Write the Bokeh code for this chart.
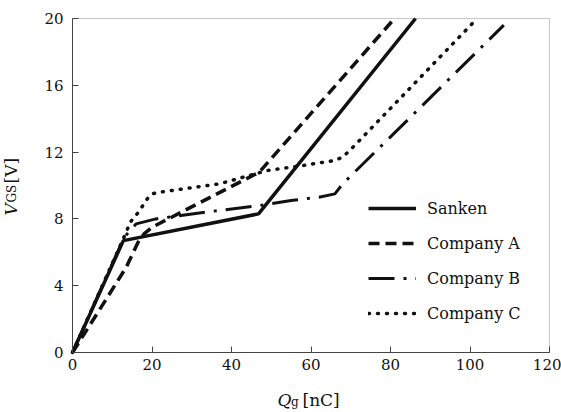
import math
from bokeh.plotting import figure
from bokeh.models import Range1d, FixedTicker, Legend, LegendItem, Label, BoxAnnotation
from bokeh.embed import file_html
from bokeh.resources import INLINE

# ---- data ----
sanken_q = [0, 12.8, 46.8, 86.3]
sanken_v = [0, 6.7, 8.3, 20.0]

a_q = [0, 8.5, 13.5, 16.5, 18, 20, 47, 81]
a_v = [0, 3.2, 5.1, 6.6, 7.1, 7.5, 10.8, 20.0]

b_q = [0, 13, 16, 21, 35, 47, 55, 62, 66, 68, 108.5]
b_v = [0, 6.9, 7.7, 8.0, 8.45, 8.8, 9.1, 9.3, 9.5, 10.1, 19.6]

c_q = [0, 13.5, 14.5, 16.6, 18.8, 20, 22, 37, 49, 58, 66, 68, 71, 101]
c_v = [0, 7.2, 7.8, 8.4, 9.2, 9.5, 9.6, 10.1, 10.9, 11.2, 11.5, 11.7, 12.4, 19.8]

series_names = ["Sanken", "Company A", "Company B", "Company C"]
x_ticks = [0, 20, 40, 60, 80, 100, 120]
y_ticks = [0, 4, 8, 12, 16, 20]
X_MIN, X_MAX = 0, 120
Y_MIN, Y_MAX = 0, 20

# ---- layout (pixels) ----
W, H = 561, 412
PL, PR, PT, PB = 72, 549, 18, 352          # data box edges on the canvas
XPP = (X_MAX - X_MIN) / (PR - PL)
YPP = (Y_MAX - Y_MIN) / (PB - PT)
FONT = "DejaVu Serif"
INK = "#111111"
AXC = "#444444"

p = figure(width=W, height=H,
           x_range=Range1d(X_MIN - PL * XPP, X_MAX + (W - PR) * XPP),
           y_range=Range1d(Y_MIN - (H - PB) * YPP, Y_MAX + PT * YPP),
           output_backend="svg", toolbar_location=None, title=None,
           min_border=0)
p.background_fill_color = "white"
p.border_fill_color = "white"
p.outline_line_color = None
p.xgrid.visible = False
p.ygrid.visible = False

p.xaxis.fixed_location = Y_MIN
p.yaxis.fixed_location = X_MIN
p.xaxis.bounds = (X_MIN, X_MAX)
p.yaxis.bounds = (Y_MIN, Y_MAX)
for ax, ticks, standoff in ((p.xaxis, x_ticks, 6), (p.yaxis, y_ticks, 9)):
    ax.ticker = FixedTicker(ticks=ticks)
    ax.major_tick_in = 6
    ax.major_tick_out = 0
    ax.minor_tick_in = 0
    ax.minor_tick_out = 0
    ax.axis_line_color = AXC
    ax.major_tick_line_color = AXC
    ax.major_label_text_font = FONT
    ax.major_label_text_font_size = "15px"
    ax.major_label_text_color = INK
    ax.major_label_standoff = standoff

p.add_layout(BoxAnnotation(left=X_MIN, right=X_MAX, bottom=Y_MIN, top=Y_MAX,
                           fill_alpha=0, line_color=AXC, line_width=1))

r_s = p.line(sanken_q, sanken_v, line_color=INK, line_width=3.5)
r_a = p.line(a_q, a_v, line_color=INK, line_width=3.5, line_dash="11 6")
r_b = p.line(b_q, b_v, line_color=INK, line_width=3, line_dash="26 9 3 9")
r_c = p.line(c_q, c_v, line_color=INK, line_width=3.5, line_dash="1 8", line_cap="round")

legend = Legend(items=[LegendItem(label=n, renderers=[r]) for n, r in
                       zip(series_names, [r_s, r_a, r_b, r_c])],
                location=(368, 89), orientation="vertical",
                glyph_width=48, glyph_height=20, label_height=20, spacing=15,
                padding=0, margin=0, label_standoff=11,
                label_text_font=FONT, label_text_font_size="16px",
                label_text_color=INK,
                border_line_alpha=0, background_fill_alpha=0)
p.add_layout(legend)


def dx(cx):
    return X_MIN + (cx - PL) * XPP


def dy(cy):
    return Y_MIN + (PB - cy) * YPP


def lab(x, y, text, size, italic=False, angle=0.0):
    p.add_layout(Label(x=dx(x), y=dy(y), text=text, text_font=FONT,
                       text_font_size=size, text_color=INK,
                       text_font_style="italic" if italic else "normal",
                       text_align="left", text_baseline="alphabetic",
                       angle=angle))


# x axis title: Q_g [nC]
lab(277, 399, "Q", "17px", italic=True)
lab(290.5, 401, "g", "12px")
lab(302, 399, "[nC]", "17px")

# y axis title: V_GS [V] (rotated)
ang = math.pi / 2
lab(10, 215, "V", "17px", italic=True, angle=ang)
lab(11, 202, "GS", "12px", angle=ang)
lab(10, 183, "[V]", "17px", angle=ang)

open("out.html", "w").write(file_html(p, INLINE))
